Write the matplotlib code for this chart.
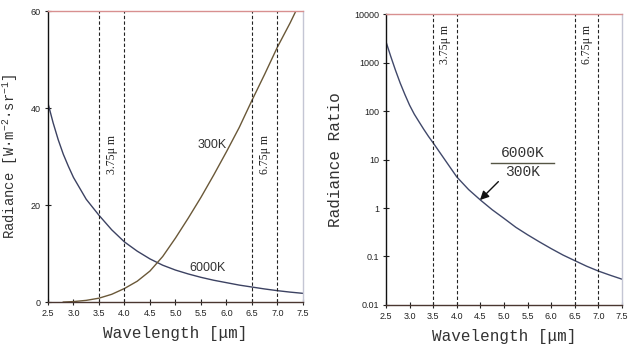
import matplotlib
matplotlib.use("Agg")
import matplotlib.pyplot as plt
from matplotlib.ticker import FixedLocator, NullLocator

plt.rcParams['mathtext.fontset'] = 'custom'
plt.rcParams['mathtext.rm'] = 'Liberation Mono'
plt.rcParams['mathtext.it'] = 'Liberation Mono'

# ---- data ----
wl_300 = [2.8, 3.0, 3.25, 3.5, 3.75, 4.0, 4.25, 4.5, 4.75, 5.0, 5.25, 5.5,
          5.75, 6.0, 6.25, 6.5, 6.75, 7.0, 7.25, 7.36]
rad_300 = [0.0, 0.1, 0.35, 0.8, 1.6, 2.8, 4.3, 6.4, 9.4, 13.2, 17.3, 21.6,
           26.2, 31.0, 36.0, 41.6, 47.0, 52.6, 57.6, 60.0]

wl_6000 = [2.5, 2.6, 2.7, 2.8, 2.9, 3.0, 3.25, 3.5, 3.75, 4.0, 4.25, 4.5, 4.75,
           5.0, 5.25, 5.5, 5.75, 6.0, 6.25, 6.5, 6.75, 7.0, 7.25, 7.5]
rad_6000 = [41.0, 37.0, 33.5, 30.5, 28.0, 25.7, 21.2, 17.9, 14.9, 12.4, 10.5,
            8.9, 7.6, 6.6, 5.8, 5.1, 4.5, 4.0, 3.5, 3.1, 2.7, 2.35, 2.05, 1.8]

wl_ratio = [2.5, 2.6, 2.7, 2.8, 2.9, 3.0, 3.1, 3.2, 3.3, 3.4, 3.5, 3.75, 4.0,
            4.25, 4.5, 4.75, 5.0, 5.25, 5.5, 5.75, 6.0, 6.25, 6.5, 6.75, 7.0,
            7.25, 7.5]
ratio = [2700, 1350, 700, 380, 220, 132, 86, 60, 42, 30, 22, 9.8, 4.37,
         2.4, 1.46, 0.92, 0.61, 0.40, 0.28, 0.20, 0.145, 0.107, 0.082, 0.063,
         0.050, 0.041, 0.034]

band_edges = [3.5, 4.0, 6.5, 7.0]
band_labels = ["3.75\u03bc m", "6.75\u03bc m"]
band_centers = [3.75, 6.75]

x_ticks = [2.5, 3.0, 3.5, 4.0, 4.5, 5.0, 5.5, 6.0, 6.5, 7.0, 7.5]
x_ticklabels = ["2.5", "3.0", "3.5", "4.0", "4.5", "5.0", "5.5", "6.0", "6.5", "7.0", "7.5"]
y_ticks_left = [0, 20, 40, 60]
y_ticks_right = [0.01, 0.1, 1, 10, 100, 1000, 10000]
y_ticklabels_right = ["0.01", "0.1", "1", "10", "100", "1000", "10000"]

mono = 'Liberation Mono'
sans = 'Liberation Sans'
serif = 'Liberation Serif'

fig = plt.figure(figsize=(6.28, 3.48), dpi=100)
axL = fig.add_axes([0.0764, 0.132, 0.406, 0.836])
axR = fig.add_axes([0.6146, 0.1236, 0.376, 0.836])

def style(ax):
    ax.spines['left'].set_color('#111111')
    ax.spines['bottom'].set_color('#4a3630')
    ax.spines['top'].set_color('#d89090')
    ax.spines['right'].set_color('#c4c6d4')
    for s in ax.spines.values():
        s.set_linewidth(1.0)
    ax.tick_params(axis='both', direction='inout', length=4, width=0.8,
                   colors='#222222', labelsize=6.5, pad=3)
    ax.set_xlim(2.5, 7.5)
    ax.xaxis.set_major_locator(FixedLocator(x_ticks))
    ax.set_xticklabels(x_ticklabels, fontfamily=sans)
    ax.xaxis.set_minor_locator(NullLocator())
    ax.set_xlabel("Wavelength [\u03bcm]", fontfamily=mono, fontsize=11.5,
                  color='#333333', labelpad=6)

# ---- left panel ----
axL.plot(wl_6000, rad_6000, color='#3c4262', lw=1.0)
axL.plot(wl_300, rad_300, color='#6a5838', lw=1.0)
axL.set_ylim(0, 60)
for x in band_edges:
    axL.axvline(x, color='#222222', lw=0.8, ls=(0, (3, 2)))
style(axL)
axL.yaxis.set_major_locator(FixedLocator(y_ticks_left))
axL.set_yticklabels([str(v) for v in y_ticks_left], fontfamily=sans)
axL.set_ylabel("Radiance [W\u00b7m$^{-2}$\u00b7sr$^{-1}$]", fontfamily=mono,
               fontsize=10, color='#333333', labelpad=8)
axL.text(5.71, 32.4, "300K", fontfamily=sans, fontsize=9, color='#333333',
         ha='center', va='center')
axL.text(5.62, 7.0, "6000K", fontfamily=sans, fontsize=9, color='#333333',
         ha='center', va='center')
for xc, lab in zip(band_centers, band_labels):
    axL.text(xc, 30.5, lab, rotation=90, fontfamily=serif, fontsize=8.5,
             color='#222222', ha='center', va='center')

# ---- right panel ----
axR.plot(wl_ratio, ratio, color='#40486a', lw=1.0)
axR.set_yscale('log')
axR.set_ylim(0.01, 10000)
for x in band_edges:
    axR.axvline(x, color='#222222', lw=0.8, ls=(0, (3, 2)))
style(axR)
axR.yaxis.set_major_locator(FixedLocator(y_ticks_right))
axR.yaxis.set_minor_locator(NullLocator())
axR.set_yticklabels(y_ticklabels_right, fontfamily=sans)
axR.set_ylabel("Radiance Ratio", fontfamily=mono, fontsize=11.5,
               color='#333333', labelpad=8)
for xc, lab in zip(band_centers, band_labels):
    axR.text(xc, 2400, lab, rotation=90, fontfamily=serif, fontsize=8.5,
             color='#222222', ha='center', va='center')
axR.text(5.4, 13.5, "6000K", fontfamily=mono, fontsize=10.5, color='#333333',
         ha='center', va='center')
axR.text(5.4, 5.4, "300K", fontfamily=mono, fontsize=10.5, color='#333333',
         ha='center', va='center')
axR.plot([4.73, 6.06], [8.6, 8.6], color='#555544', lw=1.0)
axR.annotate("", xy=(4.49, 1.46), xytext=(4.88, 3.5),
             arrowprops=dict(arrowstyle='-|>', color='#111111', lw=1.0,
                             mutation_scale=13, shrinkA=0, shrinkB=0))

fig.savefig("out.png", dpi=100)
